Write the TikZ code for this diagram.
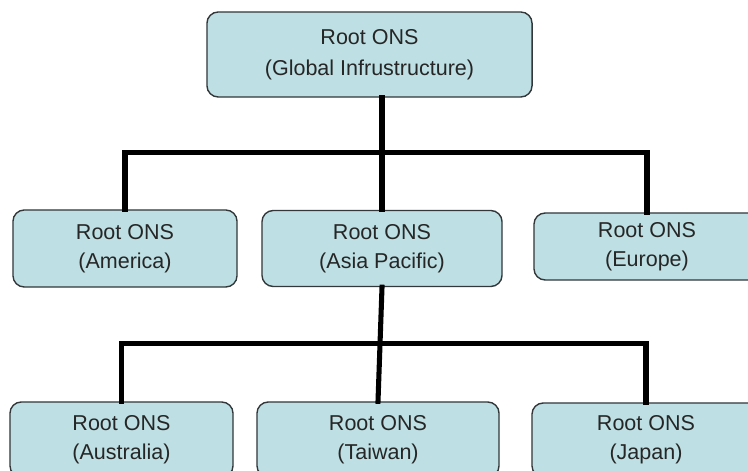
\documentclass[tikz,border=0pt]{standalone}
\usepackage{fontspec}
\setmainfont{Liberation Sans}
\usepackage{xcolor}
\usetikzlibrary{positioning, calc}
\definecolor{onsfill}{RGB}{190,223,227}
\definecolor{onsdraw}{RGB}{50,55,58}

\begin{document}
\begin{tikzpicture}[
    x=0.025cm, y=-0.025cm,
    box/.style={draw=onsdraw, line width=1pt, rounded corners=8pt,
                fill=onsfill, align=center, text=black!85,
                font=\fontsize{15.3}{20.5}\selectfont, inner sep=0pt},
    link/.style={line width=3.6pt, line cap=rect}
  ]
    \clip (0,0) rectangle (748,471);

    %% Level 1: global root
    \node[box, minimum width=8.125cm, minimum height=2.125cm,
          font=\fontsize{15.3}{22}\selectfont] (root) at (369.5,54.5)
      {Root ONS\\(Global Infrustructure)};

    %% Level 2: regions
    \node[box, minimum width=5.6cm, minimum height=1.925cm] (america) at (125,248.5)
      {Root ONS\\(America)};
    \node[box, minimum width=6cm, minimum height=1.9cm] (asia) at (382,248.5)
      {Root ONS\\(Asia Pacific)};
    \node[box, minimum width=5.65cm, minimum height=1.675cm] (europe) at (647,246.5)
      {Root ONS\\(Europe)};

    %% Level 3: Asia Pacific countries
    \node[box, minimum width=5.575cm, minimum height=1.875cm] (australia) at (121.5,439.5)
      {Root ONS\\(Australia)};
    \node[box, minimum width=6.05cm, minimum height=1.875cm] (taiwan) at (378,439.5)
      {Root ONS\\(Taiwan)};
    \node[box, minimum width=5.7cm, minimum height=1.85cm] (japan) at (646,440)
      {Root ONS\\(Japan)};

    %% Bus lines
    \coordinate (bus1) at ($(asia.north)!0.51!(asia.north |- root.south)$);
    \coordinate (bus2) at ($(taiwan.north)!0.51!(asia.south)$);

    \draw[link] (asia.north) -- (asia.north |- root.south);
    \draw[link] (america.north) |- (bus1) -| (europe.north);

    \draw[link] (asia.south) -- (taiwan.north);
    \draw[link] (australia.north) |- (bus2) -| (japan.north);
\end{tikzpicture}
\end{document}
